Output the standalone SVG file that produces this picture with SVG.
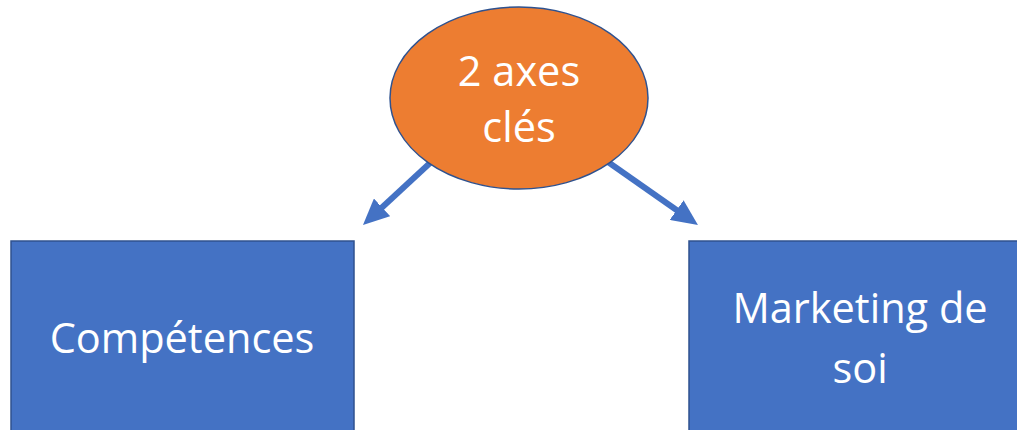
<svg xmlns="http://www.w3.org/2000/svg" width="1017" height="430" viewBox="0 0 1017 430">
  <style>
    .box { fill: #4472C4; stroke: #2F528F; stroke-width: 1.5; }
    .oval { fill: #ED7D31; stroke: #2F528F; stroke-width: 1.5; }
    .lbl { font-family: "Open Sans", "Noto Sans", sans-serif; font-size: 41.5px; fill: #FFFFFF; text-anchor: middle; }
    .conn { stroke: #4472C4; stroke-width: 6; fill: none; }
  </style>
  <defs>
    <marker id="head" markerUnits="userSpaceOnUse" markerWidth="26" markerHeight="24" refX="2" refY="12" orient="auto">
      <path d="M0,0 L26,12 L0,24 Z" fill="#4472C4"/>
    </marker>
  </defs>
  <rect width="1017" height="430" fill="#FFFFFF"/>
  <g id="connectors">
    <line class="conn" x1="430" y1="163" x2="380.6" y2="208.7" marker-end="url(#head)"/>
    <line class="conn" x1="608" y1="162" x2="678.3" y2="211.2" marker-end="url(#head)"/>
  </g>
  <g id="node-axes">
    <ellipse class="oval" cx="519" cy="98" rx="129" ry="91"/>
    <text class="lbl" x="519" y="86">2 axes</text>
    <text class="lbl" x="519" y="142">clés</text>
  </g>
  <g id="node-competences">
    <rect class="box" x="11" y="241" width="343" height="200"/>
    <text class="lbl" x="182" y="353">Compétences</text>
  </g>
  <g id="node-marketing">
    <rect class="box" x="689" y="241" width="340" height="200"/>
    <text class="lbl" x="860" y="323">Marketing de</text>
    <text class="lbl" x="860" y="383">soi</text>
  </g>
</svg>
